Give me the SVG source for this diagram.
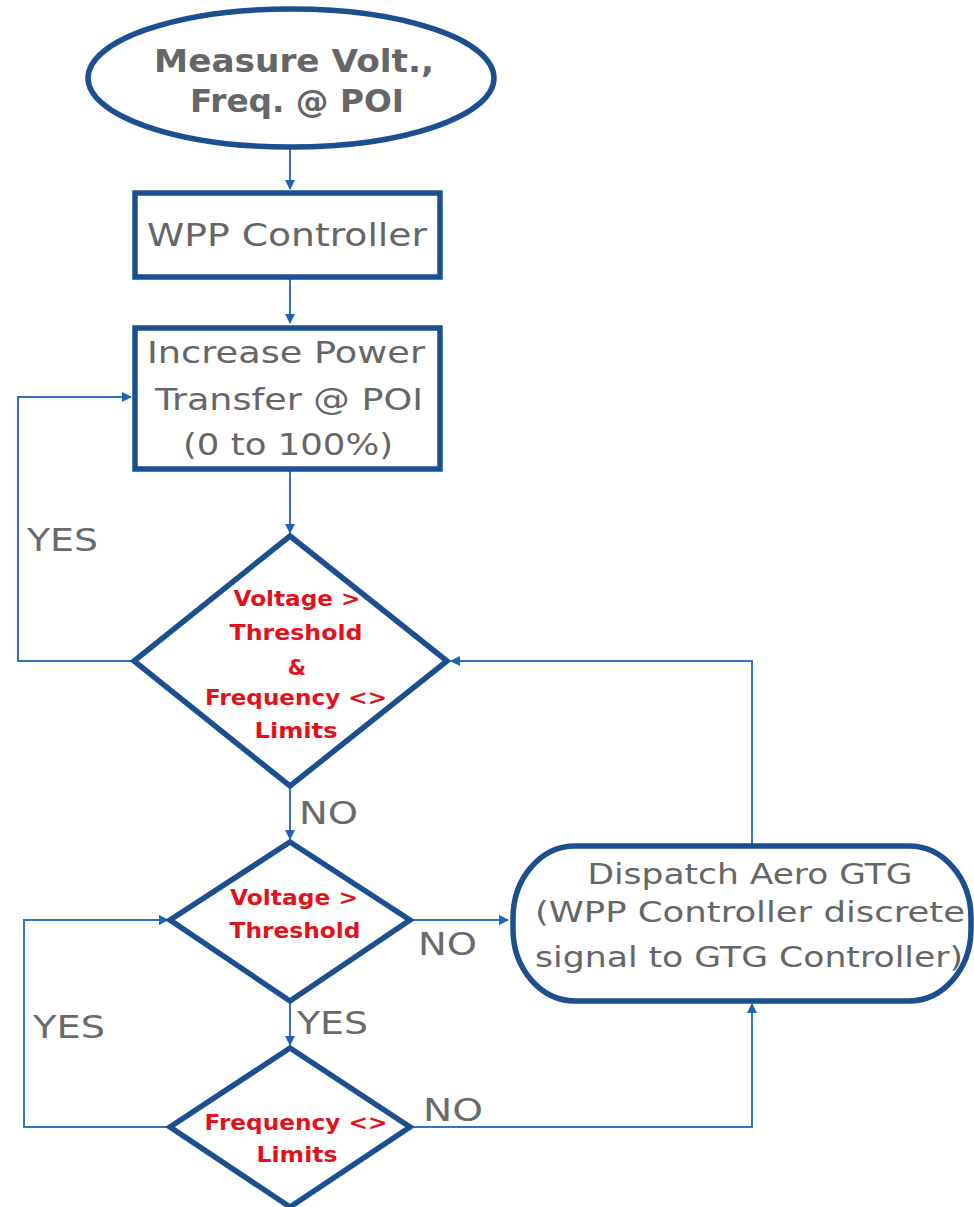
<svg xmlns="http://www.w3.org/2000/svg" width="974" height="1207" viewBox="0 0 974 1207">
<defs>
<marker id="arr" markerWidth="10" markerHeight="10" refX="9" refY="5" orient="auto" markerUnits="userSpaceOnUse">
<path d="M0,0 L10,5 L0,10 Z" fill="#1F64B4"/>
</marker>
<style>
.node{fill:#fff;stroke:#1C4F8F;stroke-width:5.5}
.conn{fill:none;stroke:#2F73BE;stroke-width:2}
.gt{font-family:"DejaVu Sans","Open Sans",sans-serif;fill:#666;text-anchor:middle}
.rt{font-family:"DejaVu Sans","Open Sans",sans-serif;font-weight:bold;fill:#E0131C;text-anchor:middle;font-size:21px}
.lbl{font-family:"DejaVu Sans","Open Sans",sans-serif;fill:#6a6a6a;font-size:32px}
</style>
</defs>
<rect width="974" height="1207" fill="#fff"/>
<g id="connectors">
<path class="conn" d="M290,148 V189" marker-end="url(#arr)"/>
<path class="conn" d="M290,278 V323" marker-end="url(#arr)"/>
<path class="conn" d="M290,471 V533" marker-end="url(#arr)"/>
<path class="conn" d="M133,661 H18 V397 H131" marker-end="url(#arr)"/>
<path class="conn" d="M290,788 V839" marker-end="url(#arr)"/>
<path class="conn" d="M410,920 H508" marker-end="url(#arr)"/>
<path class="conn" d="M752,845 V661 H451" marker-end="url(#arr)"/>
<path class="conn" d="M290,1002 V1045" marker-end="url(#arr)"/>
<path class="conn" d="M170,1127 H24 V920 H168" marker-end="url(#arr)"/>
<path class="conn" d="M410,1127 H752 V1004" marker-end="url(#arr)"/>
</g>
<g id="labels">
<text class="lbl" x="27" y="551" textLength="71" lengthAdjust="spacingAndGlyphs">YES</text>
<text class="lbl" x="299" y="824" textLength="59" lengthAdjust="spacingAndGlyphs">NO</text>
<text class="lbl" x="418" y="955" textLength="59" lengthAdjust="spacingAndGlyphs">NO</text>
<text class="lbl" x="297" y="1034" textLength="71" lengthAdjust="spacingAndGlyphs">YES</text>
<text class="lbl" x="33" y="1038" textLength="72" lengthAdjust="spacingAndGlyphs">YES</text>
<text class="lbl" x="423" y="1121" textLength="60" lengthAdjust="spacingAndGlyphs">NO</text>
</g>
<g id="start">
<ellipse class="node" cx="291" cy="78" rx="203" ry="69"/>
<text class="gt" x="294" y="72" font-size="32" font-weight="bold" textLength="280" lengthAdjust="spacingAndGlyphs">Measure Volt.,</text>
<text class="gt" x="297" y="112" font-size="32" font-weight="bold" textLength="214" lengthAdjust="spacingAndGlyphs">Freq. @ POI</text>
</g>
<g id="wpp">
<rect class="node" x="135" y="193" width="305" height="84"/>
<text class="gt" x="287" y="246" font-size="32" textLength="280" lengthAdjust="spacingAndGlyphs">WPP Controller</text>
</g>
<g id="increase">
<rect class="node" x="135" y="328" width="305" height="141"/>
<text class="gt" x="286" y="363" font-size="31" textLength="278" lengthAdjust="spacingAndGlyphs">Increase Power</text>
<text class="gt" x="289" y="410" font-size="31" textLength="268" lengthAdjust="spacingAndGlyphs">Transfer @ POI</text>
<text class="gt" x="288" y="455" font-size="31" textLength="210" lengthAdjust="spacingAndGlyphs">(0 to 100%)</text>
</g>
<g id="decision1">
<polygon class="node" points="290,536 447,661 290,786 134,661"/>
<text class="rt" x="297" y="606" textLength="127" lengthAdjust="spacingAndGlyphs">Voltage &gt;</text>
<text class="rt" x="296" y="640" textLength="133" lengthAdjust="spacingAndGlyphs">Threshold</text>
<text class="rt" x="297" y="675">&amp;</text>
<text class="rt" x="296" y="705" textLength="182" lengthAdjust="spacingAndGlyphs">Frequency &lt;&gt;</text>
<text class="rt" x="296" y="738" textLength="83" lengthAdjust="spacingAndGlyphs">Limits</text>
</g>
<g id="decision2">
<polygon class="node" points="290,842 410,920 290,1001 170,920"/>
<text class="rt" x="294" y="905" textLength="128" lengthAdjust="spacingAndGlyphs">Voltage &gt;</text>
<text class="rt" x="295" y="938" textLength="131" lengthAdjust="spacingAndGlyphs">Threshold</text>
</g>
<g id="decision3">
<polygon class="node" points="290,1048 410,1127 290,1207 170,1127"/>
<text class="rt" x="296" y="1130" textLength="183" lengthAdjust="spacingAndGlyphs">Frequency &lt;&gt;</text>
<text class="rt" x="297" y="1162" textLength="81" lengthAdjust="spacingAndGlyphs">Limits</text>
</g>
<g id="dispatch">
<rect class="node" x="513" y="846" width="458" height="155" rx="62" ry="72"/>
<text class="gt" x="750" y="884" font-size="29" textLength="325" lengthAdjust="spacingAndGlyphs">Dispatch Aero GTG</text>
<text class="gt" x="750" y="922" font-size="29" textLength="430" lengthAdjust="spacingAndGlyphs">(WPP Controller discrete</text>
<text class="gt" x="749" y="967" font-size="29" textLength="428" lengthAdjust="spacingAndGlyphs">signal to GTG Controller)</text>
</g>
</svg>
